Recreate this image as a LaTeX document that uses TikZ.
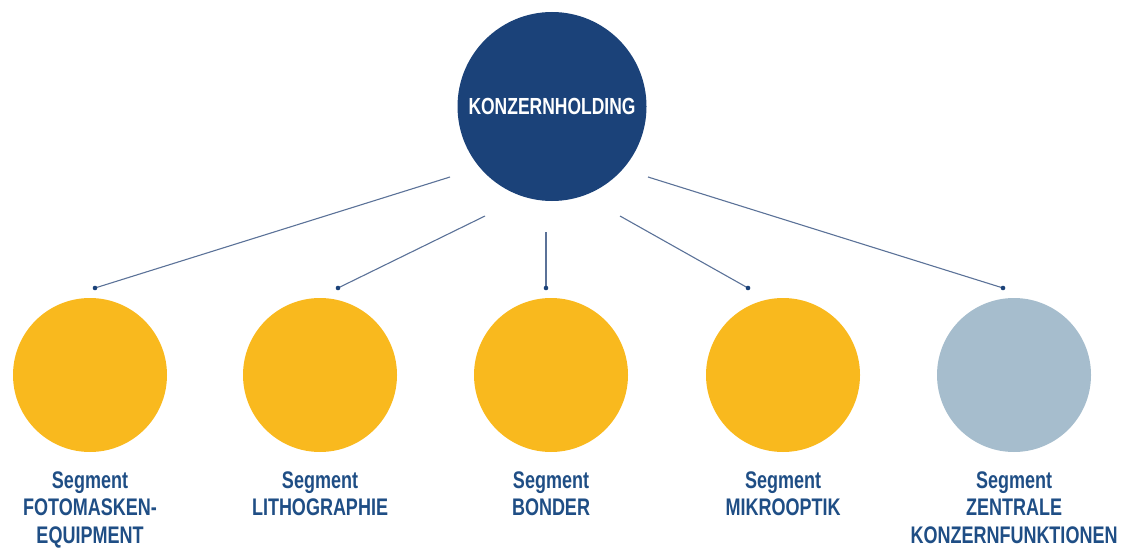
\documentclass[tikz,border=0pt]{standalone}
\usepackage{fontspec}
\setmainfont{Liberation Sans}[FakeStretch=0.75]
\definecolor{hold}{HTML}{1B4279}
\definecolor{segy}{HTML}{F9B91E}
\definecolor{segg}{HTML}{A6BDCD}
\definecolor{txt}{HTML}{1F4E85}
\definecolor{lin}{HTML}{5B7298}
\begin{document}
\begin{tikzpicture}[x=1pt,y=-1pt,
  seg/.style={circle,minimum size=154pt,inner sep=0pt},
  lbl/.style={text=txt,font=\fontsize{24}{27.5}\selectfont\bfseries,align=center,anchor=north,inner sep=0pt},
  conn/.style={draw=lin,line width=1.1pt},
  enddot/.style={fill=hold,draw=none}]
\useasboundingbox (0,0) rectangle (1123,548);
\node[circle,fill=hold,minimum size=189pt,inner sep=0pt,text=white,font=\fontsize{23.3}{26}\selectfont\bfseries] (top) at (552,106.5) {KONZERNHOLDING};
\node[seg,fill=segy] (s1) at (90,375) {};
\node[seg,fill=segy] (s2) at (320,375) {};
\node[seg,fill=segy] (s3) at (551,375) {};
\node[seg,fill=segy] (s4) at (783,375) {};
\node[seg,fill=segg] (s5) at (1014,375) {};
\node[lbl] (l1) at (90,471.5) {Segment\\FOTOMASKEN-\\EQUIPMENT};
\node[lbl] (l2) at (320,471.5) {Segment\\LITHOGRAPHIE};
\node[lbl] (l3) at (551,471.5) {Segment\\BONDER};
\node[lbl] (l4) at (783,471.5) {Segment\\MIKROOPTIK};
\node[lbl] (l5) at (1014,471.5) {Segment\\ZENTRALE\\KONZERNFUNKTIONEN};
\coordinate (a1) at (450,177); \coordinate (b1) at (95,288);
\coordinate (a2) at (485,216); \coordinate (b2) at (338,288);
\coordinate (a3) at (546,232); \coordinate (b3) at (546,288);
\coordinate (a4) at (620,216); \coordinate (b4) at (748,288);
\coordinate (a5) at (648,177); \coordinate (b5) at (1003,288);
\foreach \i in {1,...,5}{
  \draw[conn] (a\i) -- (b\i);
  \fill[enddot] (b\i) circle (2.3pt);
}
\end{tikzpicture}
\end{document}
